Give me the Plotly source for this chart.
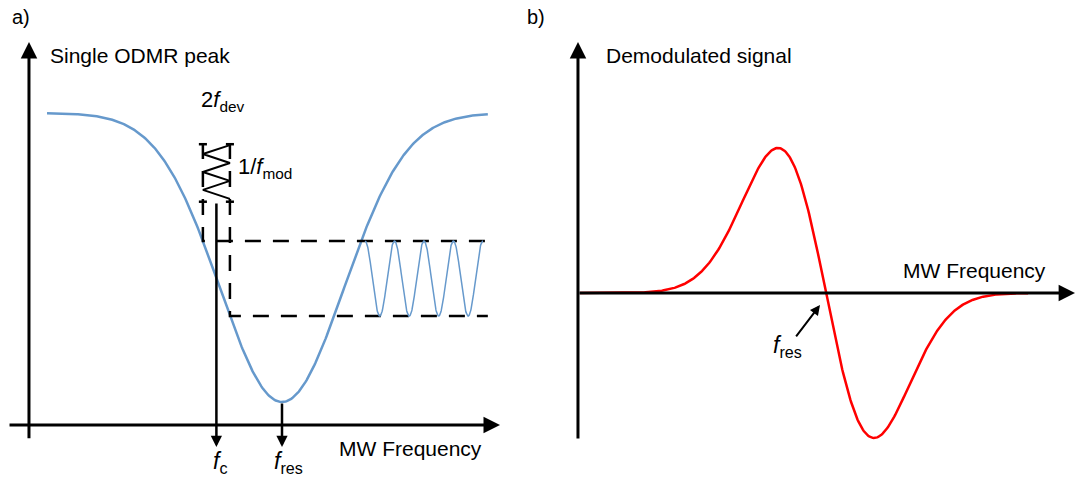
import numpy as np
import plotly.graph_objects as go

# ---------------- data (normalised schematic units) ----------------
# Panel a: single ODMR peak (frequency in linewidth units, PL signal 0..1)
ODMR_F_RES = 0.0
ODMR_SIGMA = 1.0
ODMR_DEPTH = 1.0
ODMR_BASELINE = 1.0
ODMR_F_SPAN = [-3.79, 3.32]
F_C = -1.058           # working point
F_DEV = 0.218          # frequency deviation
TRI_SIGN = [1, -1, 1, -1, 1, -1, 1]                          # triangle modulation (±f_dev)
TRI_TIME = [0.889, 0.858, 0.827, 0.796, 0.765, 0.734, 0.703]  # time axis (downwards)
BAR_TOP = 0.896
WAVE_F_SPAN = [1.339, 3.24]
WAVE_PERIODS = 4

# Panel b: demodulated (derivative) signal
DEMOD_F_RES = 0.0
DEMOD_SIGMA = 1.0
DEMOD_AMP = 1.0
DEMOD_F_SPAN = [-5.125, 4.21]

# ---------------- styles ----------------
BLUE = "#6699CC"
RED = "#FF0000"
FONT = dict(family="Liberation Sans, Arial, sans-serif", size=21, color="black")


def odmr(f):
    f = np.asarray(f, dtype=float)
    return ODMR_BASELINE - ODMR_DEPTH * np.exp(-((f - ODMR_F_RES) ** 2) / (2 * ODMR_SIGMA ** 2))


def demod(g):
    u = (np.asarray(g, dtype=float) - DEMOD_F_RES) / DEMOD_SIGMA
    return -DEMOD_AMP * u * np.exp((1 - u ** 2) / 2)


fig = go.Figure()

# ---- panel a ----
f = np.linspace(ODMR_F_SPAN[0], ODMR_F_SPAN[1], 400)
fig.add_trace(go.Scatter(x=f, y=odmr(f), mode="lines",
                         line=dict(color=BLUE, width=2.5), xaxis="x", yaxis="y"))

s_up = float(odmr(F_C - F_DEV))
s_lo = float(odmr(F_C + F_DEV))
x_left = F_C - F_DEV
x_right = F_C + F_DEV
dash = dict(color="black", width=2.5, dash="16px,12px")

# dashed bars and levels
fig.add_trace(go.Scatter(x=[x_left, x_left, ODMR_F_SPAN[1]], y=[BAR_TOP, s_up, s_up],
                         mode="lines", line=dash, xaxis="x", yaxis="y"))
fig.add_trace(go.Scatter(x=[x_right, x_right, ODMR_F_SPAN[1]], y=[BAR_TOP, s_lo, s_lo],
                         mode="lines", line=dash, xaxis="x", yaxis="y"))
# caps
cap = 0.065
for yy in [BAR_TOP - 0.004, TRI_TIME[-1] - 0.01]:
    for xx in [x_left, x_right]:
        fig.add_trace(go.Scatter(x=[xx - cap, xx + cap], y=[yy, yy], mode="lines",
                                 line=dict(color="black", width=2.5), xaxis="x", yaxis="y"))
# triangle modulation
tri_x = [F_C + s * F_DEV for s in TRI_SIGN]
fig.add_trace(go.Scatter(x=tri_x, y=TRI_TIME, mode="lines",
                         line=dict(color="black", width=2), xaxis="x", yaxis="y"))

# modulated PL response
wf = np.linspace(WAVE_F_SPAN[0], WAVE_F_SPAN[1], 400)
phase = 2 * np.pi * WAVE_PERIODS * (wf - WAVE_F_SPAN[0]) / (WAVE_F_SPAN[1] - WAVE_F_SPAN[0])
wave = (s_up + s_lo) / 2 + (s_up - s_lo) / 2 * np.cos(phase)
fig.add_trace(go.Scatter(x=wf, y=wave, mode="lines",
                         line=dict(color=BLUE, width=1.5), xaxis="x", yaxis="y"))

# ---- panel b ----
g = np.linspace(DEMOD_F_SPAN[0], DEMOD_F_SPAN[1], 500)
fig.add_trace(go.Scatter(x=g, y=demod(g), mode="lines",
                         line=dict(color=RED, width=2.5), xaxis="x2", yaxis="y2"))

ann = []


def arrow(x, y, ax, ay, xr, yr, width=3, size=1.1):
    ann.append(dict(x=x, y=y, ax=ax, ay=ay, xref=xr, yref=yr, axref=xr, ayref=yr,
                    text="", showarrow=True, arrowhead=2, arrowsize=size,
                    arrowwidth=width, arrowcolor="black"))


def label(x, y, text, xr, yr, xanchor="left", size=21):
    ann.append(dict(x=x, y=y, xref=xr, yref=yr, text=text, showarrow=False,
                    xanchor=xanchor, yanchor="middle",
                    font=dict(family=FONT["family"], size=size, color="black")))


# panel a axes
arrow(-4.081, 1.246, -4.081, -0.131, "x", "y")
arrow(3.516, -0.0796, -4.419, -0.0796, "x", "y")
# f_c and f_res markers
arrow(F_C, -0.156, F_C, 0.692, "x", "y", width=2.5, size=0.9)
arrow(ODMR_F_RES, -0.156, ODMR_F_RES, float(odmr(ODMR_F_RES)), "x", "y", width=2.5, size=0.9)

label(-3.774, 1.2007, "Single ODMR peak", "x", "y")
label(3.258, -0.1626, "MW Frequency", "x", "y", xanchor="right")
label(F_C + 0.05, -0.208, "<i>f</i><sub>c</sub>", "x", "y", xanchor="center", size=23)
label(ODMR_F_RES + 0.11, -0.208, "<i>f</i><sub>res</sub>", "x", "y", xanchor="center", size=23)
label(x_left - 0.06, 1.04, "2<i>f</i><sub>dev</sub>", "x", "y", size=22)
label(-0.742, 0.81, "1/<i>f</i><sub>mod</sub>", "x", "y", size=22)

# panel b axes
arrow(-5.167, 1.731, -5.167, -1.0138, "x2", "y2")
arrow(5.19, 0.0, -5.167, 0.0, "x2", "y2")
arrow(-0.125, -0.083, -0.646, -0.310, "x2", "y2", width=2, size=1.0)

label(-4.625, 1.641, "Demodulated signal", "x2", "y2")
label(4.625, 0.1586, "MW Frequency", "x2", "y2", xanchor="right")
label(-0.81, -0.37, "<i>f</i><sub>res</sub>", "x2", "y2", xanchor="center", size=23)

label(0.009, 1 - 17 / 480, "a)", "paper", "paper", size=20)
label(0.488, 1 - 17 / 480, "b)", "paper", "paper", size=20)

hidden = dict(visible=False, showgrid=False, zeroline=False, fixedrange=True)
fig.update_layout(
    width=1075, height=480,
    margin=dict(l=0, r=0, t=0, b=0),
    paper_bgcolor="white", plot_bgcolor="white",
    showlegend=False,
    font=FONT,
    xaxis=dict(domain=[0, 0.5], range=[-4.5484, 4.1210], **hidden),
    yaxis=dict(domain=[0, 1], range=[-0.2699, 1.3910], anchor="x", **hidden),
    xaxis2=dict(domain=[0.5, 1], range=[-6.0104, 5.1875], anchor="y2", **hidden),
    yaxis2=dict(domain=[0, 1], range=[-1.2897, 2.0207], anchor="x2", **hidden),
    annotations=ann,
)

fig.write_html("out.html")
